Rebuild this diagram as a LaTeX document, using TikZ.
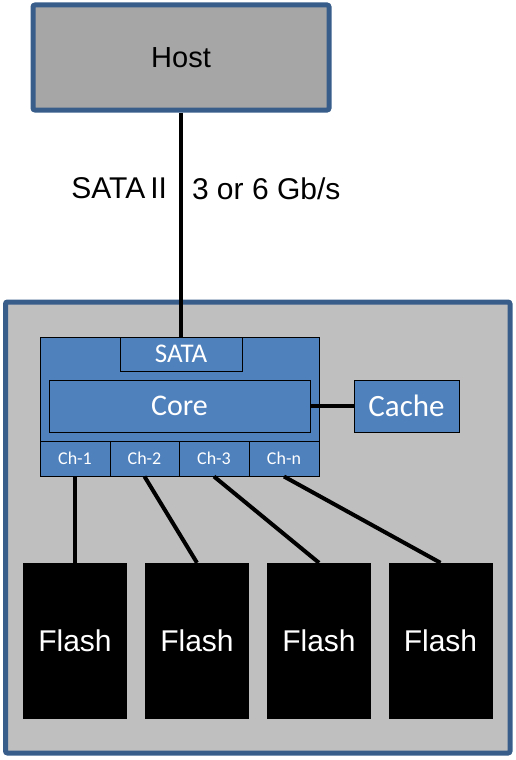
\documentclass[tikz,border=0pt]{standalone}
\usepackage{fontspec}
\setmainfont{Liberation Sans}
\newfontfamily\calfont{Carlito}
\usepackage{xcolor}
\definecolor{edgeblue}{HTML}{385D8A}
\definecolor{fillblue}{HTML}{4F81BD}
\definecolor{hostgray}{HTML}{A6A6A6}
\definecolor{boardgray}{HTML}{BFBFBF}
\tikzset{
  bigbox/.style={draw=edgeblue, line width=5pt, rounded corners=2pt, inner sep=0pt},
  bluebox/.style={draw=black, line width=1pt, fill=fillblue, text=white, inner sep=0pt},
  flashbox/.style={fill=black, text=white, inner sep=0pt, minimum width=104pt, minimum height=156pt,
    font=\fontsize{30}{32}\selectfont},
  wire/.style={line width=4pt}
}
\begin{document}
\begin{tikzpicture}[x=1pt,y=-1pt]
            \useasboundingbox (0,0) rectangle (515,760);
            \node [bigbox, fill=hostgray, minimum width=296pt, minimum height=105pt,
                   font=\fontsize{29}{31}\selectfont] (host) at (181,57.5) {Host};
            \node [bigbox, fill=boardgray, minimum width=504.5pt, minimum height=451pt] (board) at (257.75,527.5) {};
            \node [bluebox, minimum width=279pt, minimum height=139pt] (ctrl) at (179.5,406.5) {};
            \node [bluebox, minimum width=122pt, minimum height=34pt,
                   font=\calfont\fontsize{27}{29}\selectfont] (sata) at (181,354) {SATA};
            \node [bluebox, minimum width=261pt, minimum height=52pt,
                   font=\calfont\fontsize{30}{32}\selectfont] (core) at (179.5,406) {Core};
            \node [bluebox, minimum width=105pt, minimum height=52pt,
                   font=\calfont\fontsize{31}{33}\selectfont] (cache) at (406.5,406) {Cache};
            \node [bluebox, minimum width=70pt, minimum height=35pt,
                   font=\calfont\fontsize{18}{20}\selectfont] (ch1) at (75,458.5) {Ch-1};
            \node [bluebox, minimum width=69pt, minimum height=35pt,
                   font=\calfont\fontsize{18}{20}\selectfont] (ch2) at (144.5,458.5) {Ch-2};
            \node [bluebox, minimum width=70pt, minimum height=35pt,
                   font=\calfont\fontsize{18}{20}\selectfont] (ch3) at (214,458.5) {Ch-3};
            \node [bluebox, minimum width=70pt, minimum height=35pt,
                   font=\calfont\fontsize{18}{20}\selectfont] (chn) at (284,458.5) {Ch-n};
            \node [flashbox] (flash1) at (75,641) {Flash};
            \node [flashbox] (flash2) at (197,641) {Flash};
            \node [flashbox] (flash3) at (319,641) {Flash};
            \node [flashbox] (flash4) at (440.5,641) {Flash};
            \draw [wire] (host.south)-- node [left, pos=0.34, font=\fontsize{30}{32}\selectfont, inner sep=12pt]{SATA\,II}
                node [right, pos=0.34, font=\fontsize{30}{32}\selectfont, inner sep=9pt]{3 or 6 Gb/s} (sata.north);
            \draw [wire] (core.east)-- (cache.west);
            \draw [wire] (ch1.south)-- (flash1.north);
            \draw [wire] (ch2.south)-- (flash2.north);
            \draw [wire] (ch3.south)-- (flash3.north);
            \draw [wire] (chn.south)-- (flash4.north);
        \end{tikzpicture}
\end{document}
